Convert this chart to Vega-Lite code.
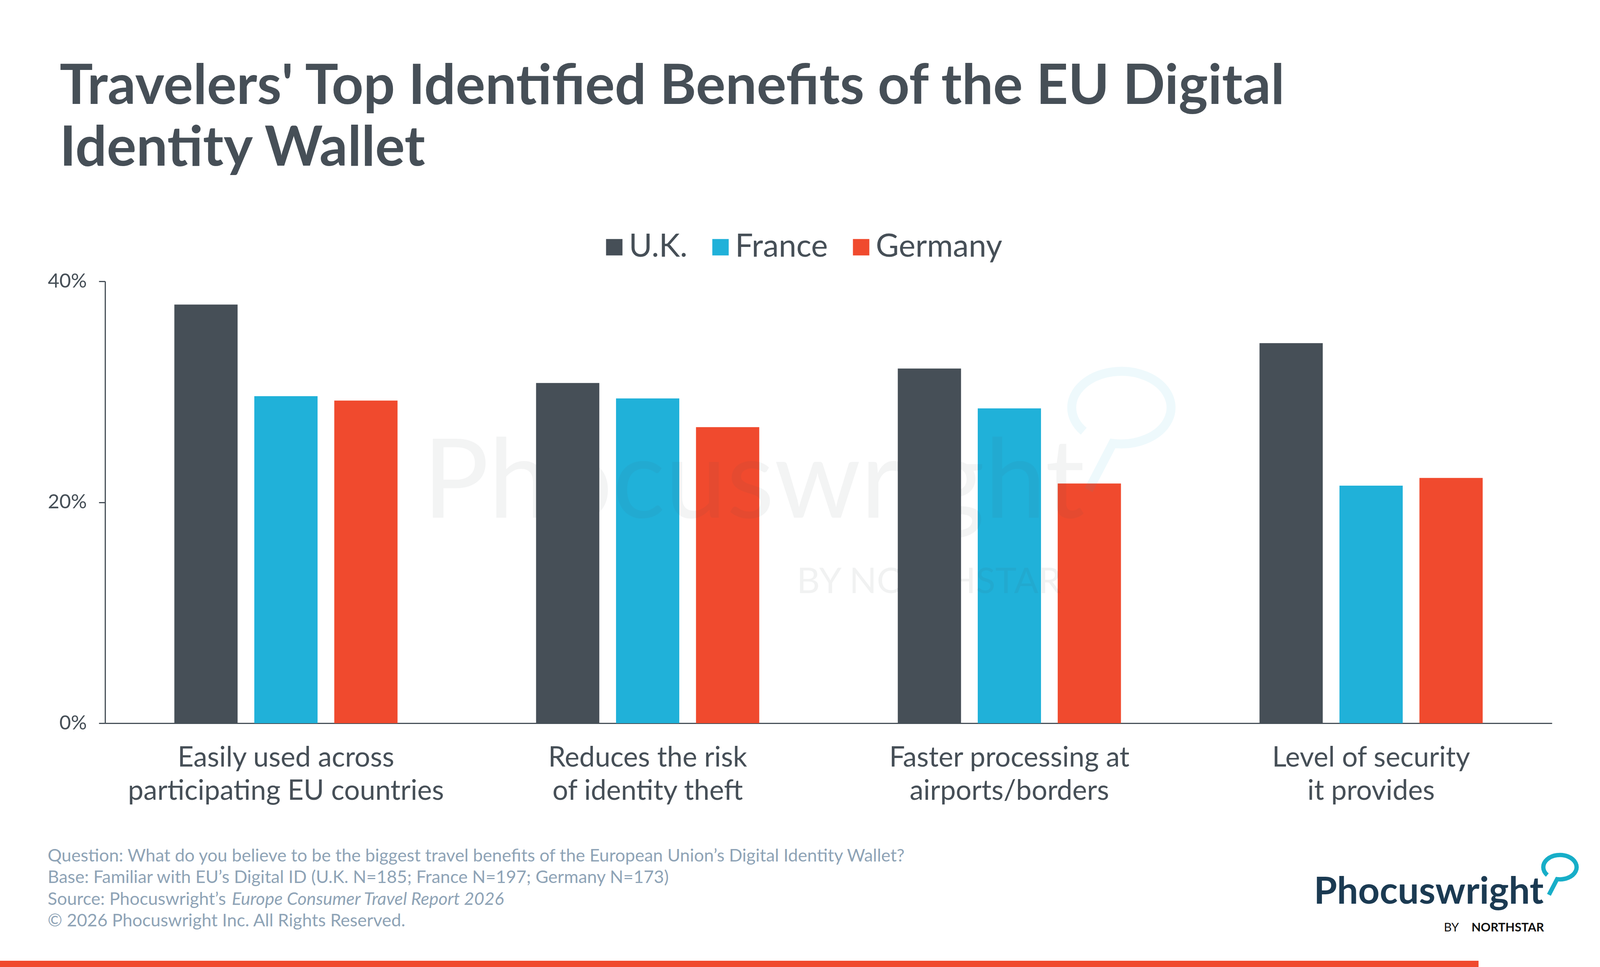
{
  "$schema": "https://vega.github.io/schema/vega-lite/v6.json",
  "background": "white",
  "autosize": {"type": "fit", "contains": "padding"},
  "padding": 0,
  "width": 4096,
  "height": 2475,
  "config": {"view": {"stroke": null}, "font": "Lato"},
  "layer": [
    {
      "data": {
        "values": [
          {"benefit": "Easily used across participating EU countries", "country": "U.K.", "pct": 37.9},
          {"benefit": "Easily used across participating EU countries", "country": "France", "pct": 29.6},
          {"benefit": "Easily used across participating EU countries", "country": "Germany", "pct": 29.2},
          {"benefit": "Reduces the risk of identity theft", "country": "U.K.", "pct": 30.8},
          {"benefit": "Reduces the risk of identity theft", "country": "France", "pct": 29.4},
          {"benefit": "Reduces the risk of identity theft", "country": "Germany", "pct": 26.8},
          {"benefit": "Faster processing at airports/borders", "country": "U.K.", "pct": 32.1},
          {"benefit": "Faster processing at airports/borders", "country": "France", "pct": 28.5},
          {"benefit": "Faster processing at airports/borders", "country": "Germany", "pct": 21.7},
          {"benefit": "Level of security it provides", "country": "U.K.", "pct": 34.4},
          {"benefit": "Level of security it provides", "country": "France", "pct": 21.5},
          {"benefit": "Level of security it provides", "country": "Germany", "pct": 22.2}
        ]
      },
      "mark": {"type": "bar"},
      "encoding": {
        "x": {
          "field": "benefit",
          "type": "nominal",
          "sort": null,
          "scale": {"range": [269, 3973], "paddingInner": 0.383, "paddingOuter": 0.1915},
          "axis": {
            "title": null,
            "offset": -624,
            "labelAngle": 0,
            "labelFont": "Lato",
            "labelFontSize": 71,
            "labelColor": "#464f57",
            "labelPadding": 54,
            "labelLineHeight": 85,
            "labelLimit": 0,
            "ticks": false,
            "domainColor": "#464f57",
            "domainWidth": 3,
            "labelExpr": "datum.label == 'Easily used across participating EU countries' ? ['Easily used across', 'participating EU countries'] : datum.label == 'Reduces the risk of identity theft' ? ['Reduces the risk', 'of identity theft'] : datum.label == 'Faster processing at airports/borders' ? ['Faster processing at', 'airports/borders'] : ['Level of security', 'it provides']"
          }
        },
        "xOffset": {
          "field": "country",
          "type": "nominal",
          "sort": ["U.K.", "France", "Germany"],
          "scale": {"paddingInner": 0.209, "paddingOuter": 0}
        },
        "y": {
          "field": "pct",
          "type": "quantitative",
          "scale": {"domain": [0, 40], "range": [1851, 720], "nice": false},
          "axis": {
            "title": null,
            "offset": -269,
            "values": [0, 20, 40],
            "labelExpr": "datum.value + '%'",
            "grid": false,
            "labelFont": "Lato",
            "labelFontSize": 51,
            "labelColor": "#464f57",
            "labelPadding": 31,
            "tickSize": 16,
            "tickWidth": 3,
            "tickColor": "#464f57",
            "domainColor": "#464f57",
            "domainWidth": 3
          }
        },
        "color": {
          "field": "country",
          "type": "nominal",
          "sort": ["U.K.", "France", "Germany"],
          "scale": {"domain": ["U.K.", "France", "Germany"], "range": ["#464f57", "#20b1d9", "#f04a2e"]},
          "legend": {
            "orient": "none",
            "direction": "horizontal",
            "legendX": 1532,
            "legendY": 592,
            "padding": 0,
            "title": null,
            "symbolType": "square",
            "symbolSize": 1764,
            "symbolStrokeWidth": 0,
            "symbolOpacity": 1,
            "labelFont": "Lato",
            "labelFontSize": 81,
            "labelColor": "#464f57",
            "labelOffset": -3,
            "labelLimit": 0,
            "columnPadding": 44
          }
        }
      }
    },
    {
      "layer": [
        {
          "data": {"values": [{"text": ["Travelers' Top Identified Benefits of the EU Digital", "Identity Wallet"]}]},
          "mark": {"type": "text", "align": "left", "baseline": "alphabetic", "font": "Lato", "fontSize": 142, "fontWeight": "bold", "lineHeight": 158, "color": "#464f57"},
          "encoding": {
            "text": {"field": "text"},
            "x": {"datum": 0.03727, "type": "quantitative", "scale": {"domain": [0, 1], "nice": false, "zero": false}, "axis": null},
            "y": {"datum": 0.10747, "type": "quantitative", "scale": {"domain": [0, 1], "nice": false, "zero": false, "reverse": true}, "axis": null}
          }
        },
        {
          "data": {"values": [{"text": "Phocuswright"}]},
          "mark": {"type": "text", "align": "center", "baseline": "alphabetic", "font": "Lato", "fontSize": 282, "color": "#46505a", "opacity": 0.06},
          "encoding": {
            "text": {"field": "text"},
            "x": {"datum": 0.4711, "type": "quantitative"},
            "y": {"datum": 0.5354, "type": "quantitative"}
          }
        },
        {
          "data": {"values": [{"text": "BY NORTHSTAR"}]},
          "mark": {"type": "text", "align": "center", "baseline": "alphabetic", "font": "Lato", "fontSize": 92, "letterSpacing": 29, "color": "#46505a", "opacity": 0.07},
          "encoding": {
            "text": {"field": "text"},
            "x": {"datum": 0.5805, "type": "quantitative"},
            "y": {"datum": 0.6133, "type": "quantitative"}
          }
        },
        {
          "data": {"values": [{"logo": "bubble"}]},
          "mark": {"type": "point", "filled": false, "shape": "M -0.66 0.38 A 0.82 0.6 0 1 1 -0.18 0.58 L -0.58 1.35", "size": 96100, "stroke": "#20b1d9", "strokeWidth": 23, "opacity": 0.07},
          "encoding": {
            "x": {"datum": 0.7023, "type": "quantitative"},
            "y": {"datum": 0.4222, "type": "quantitative"}
          }
        },
        {
          "data": {
            "values": [
              {"text": [
                "Question: What do you believe to be the biggest travel benefits of the European Union’s Digital Identity Wallet?",
                "Base: Familiar with EU’s Digital ID (U.K. N=185; France N=197; Germany N=173)",
                "Source: Phocuswright’s",
                "© 2026 Phocuswright Inc. All Rights Reserved."
              ]}
            ]
          },
          "mark": {"type": "text", "align": "left", "baseline": "alphabetic", "font": "Lato", "fontSize": 45, "letterSpacing": 0.4, "lineHeight": 55.5, "color": "#8ea3b6"},
          "encoding": {
            "text": {"field": "text"},
            "x": {"datum": 0.02977, "type": "quantitative"},
            "y": {"datum": 0.8909, "type": "quantitative"}
          }
        },
        {
          "data": {"values": [{"text": "Europe Consumer Travel Report 2026"}]},
          "mark": {"type": "text", "align": "left", "baseline": "alphabetic", "font": "Lato", "fontSize": 45, "letterSpacing": 0.4, "fontStyle": "italic", "color": "#8ea3b6"},
          "encoding": {
            "text": {"field": "text"},
            "x": {"datum": 0.1449, "type": "quantitative"},
            "y": {"datum": 0.93576, "type": "quantitative"}
          }
        },
        {
          "data": {"values": [{"text": "Phocuswright"}]},
          "mark": {"type": "text", "align": "right", "baseline": "alphabetic", "font": "Lato", "fontSize": 96, "fontWeight": "bold", "color": "#1b3a52"},
          "encoding": {
            "text": {"field": "text"},
            "x": {"datum": 0.96477, "type": "quantitative"},
            "y": {"datum": 0.93455, "type": "quantitative"}
          }
        },
        {
          "data": {"values": [{"logo": "bubble"}]},
          "mark": {"type": "point", "filled": false, "shape": "M -0.66 0.38 A 0.82 0.6 0 1 1 -0.18 0.58 L -0.58 1.35", "size": 10816, "stroke": "#17aec8", "strokeWidth": 11, "opacity": 1},
          "encoding": {
            "x": {"datum": 0.97545, "type": "quantitative"},
            "y": {"datum": 0.89697, "type": "quantitative"}
          }
        },
        {
          "data": {"values": [{"text": "NORTHSTAR"}]},
          "mark": {"type": "text", "align": "right", "baseline": "alphabetic", "font": "Lato", "fontSize": 31, "fontWeight": "bold", "letterSpacing": 2.5, "color": "#111111"},
          "encoding": {
            "text": {"field": "text"},
            "x": {"datum": 0.965, "type": "quantitative"},
            "y": {"datum": 0.96323, "type": "quantitative"}
          }
        },
        {
          "data": {"values": [{"text": "BY"}]},
          "mark": {"type": "text", "align": "right", "baseline": "alphabetic", "font": "Lato", "fontSize": 31, "letterSpacing": 2.5, "color": "#111111"},
          "encoding": {
            "text": {"field": "text"},
            "x": {"datum": 0.91182, "type": "quantitative"},
            "y": {"datum": 0.96323, "type": "quantitative"}
          }
        },
        {
          "data": {"values": [{"band": "footer"}]},
          "mark": {"type": "rect", "color": "#f04a2e"},
          "encoding": {
            "x": {"datum": 0, "type": "quantitative"},
            "x2": {"datum": 0.92409},
            "y": {"datum": 0.99354, "type": "quantitative"},
            "y2": {"datum": 1}
          }
        }
      ]
    }
  ],
  "resolve": {"scale": {"x": "independent", "y": "independent"}}
}
